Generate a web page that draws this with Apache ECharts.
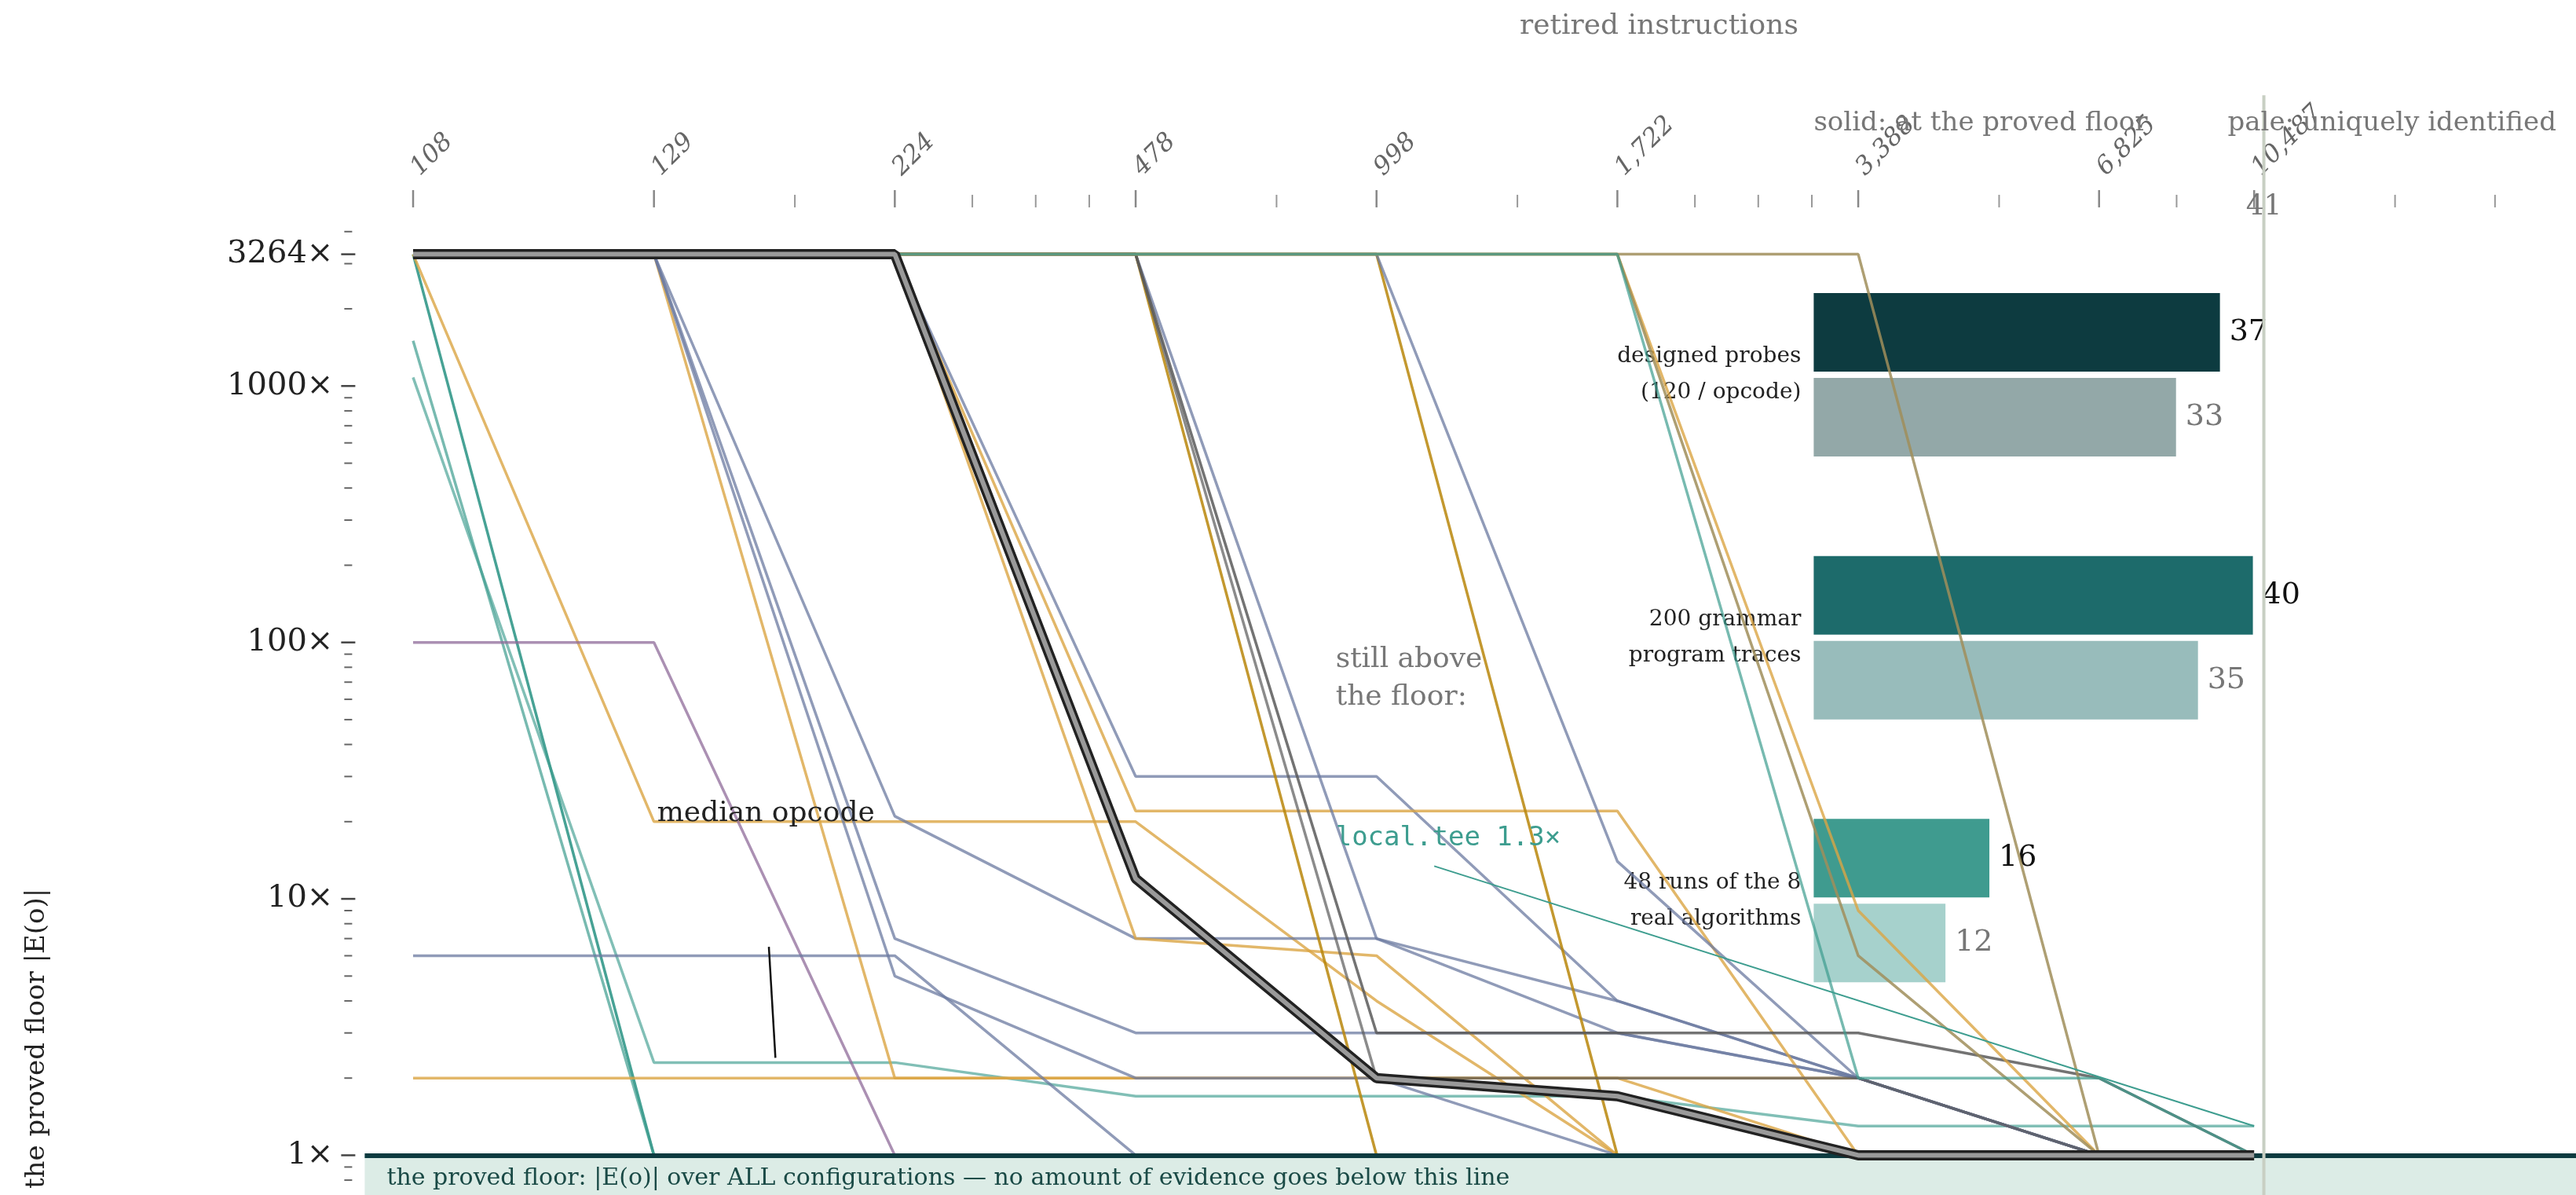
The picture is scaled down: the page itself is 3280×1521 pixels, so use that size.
<!DOCTYPE html>
<html><head><meta charset="utf-8">
<script src="https://cdn.jsdelivr.net/npm/echarts@6/dist/echarts.min.js"></script>
<style>html,body{margin:0;background:#fff}#c{width:3280px;height:1521px}</style>
</head><body><div id="c"></div>
<script>
const programs = [1,2,4,8,16,32,64,128,200];
const retired = ['108','129','224','478','998','1,722','3,388','6,825','10,487'];
const TEAL='#3d9d8f', GOLD='#dba544', SLATE='#6b7aa0', PURPLE='#8f6b9a', DGOLD='#b8860b', OLIVE='#a08e5a', GREY='#5a5a5a';
const opcodeLines = [
 {c:TEAL, o:0.95, v:[3264,1,1,1,1,1,1,1,1]},
 {c:TEAL, o:0.7, v:[1500,1,1,1,1,1,1,1,1]},
 {c:TEAL, o:0.65, v:[1080,2.3,2.3,1.7,1.7,1.7,1.3,1.3,1.3]},
 {c:GOLD, o:0.8, v:[3264,20,20,20,4,1,1,1,1]},
 {c:GOLD, o:0.8, v:[2,2,2,2,2,2,2,1,1]},
 {c:GOLD, o:0.8, v:[3264,3264,2,2,2,2,1,1,1]},
 {c:PURPLE, o:0.75, v:[100,100,1,1,1,1,1,1,1]},
 {c:SLATE, o:0.75, v:[6,6,6,1,1,1,1,1,1]},
 {c:SLATE, o:0.75, v:[3264,3264,21,7,7,4,2,1,1]},
 {c:SLATE, o:0.75, v:[3264,3264,5,2,2,1,1,1,1]},
 {c:SLATE, o:0.75, v:[3264,3264,7,3,3,3,2,1,1]},
 {c:GOLD, o:0.8, v:[3264,3264,3264,7,6,1,1,1,1]},
 {c:SLATE, o:0.75, v:[3264,3264,3264,30,30,4,2,1,1]},
 {c:GOLD, o:0.8, v:[3264,3264,3264,22,22,22,1,1,1]},
 {c:SLATE, o:0.75, v:[3264,3264,3264,3264,7,3,2,1,1]},
 {c:DGOLD, o:0.85, v:[3264,3264,3264,3264,1,1,1,1,1]},
 {c:DGOLD, o:0.85, v:[3264,3264,3264,3264,3264,1,1,1,1]},
 {c:SLATE, o:0.75, v:[3264,3264,3264,3264,3264,14,2,1,1]},
 {c:GREY, o:0.85, v:[3264,3264,3264,3264,3,3,3,2,1]},
 {c:GREY, o:0.7, v:[3264,3264,3264,3264,2,2,2,1,1]},
 {c:GOLD, o:0.8, v:[3264,3264,3264,3264,3264,3264,9,1,1]},
 {c:OLIVE, o:0.85, v:[3264,3264,3264,3264,3264,3264,6,1,1]},
 {c:OLIVE, o:0.85, v:[3264,3264,3264,3264,3264,3264,3264,1,1]},
 {c:TEAL, o:0.7, v:[3264,3264,3264,3264,3264,3264,2,2,1]}
];
const medianOpcode = [3264,3264,3264,12,2,1.7,1,1,1];
const barCategories = ['designed probes\n(120 / opcode)','200 grammar\nprogram traces','48 runs of the 8\nreal algorithms'];
const atFloor = [37,40,16];
const unique = [33,35,12];
const solidColors = ['#0d3b40','#1d6b6b','#3f9b8f'];
const paleColors = ['#93a8a8','#98bcbb','#a6d1cc'];
const totalOpcodes = 41;

const S=3280/1568;
const SERIF='"DejaVu Serif", serif';
const chart = echarts.init(document.getElementById('c'));
const pts = v => programs.map((x,i)=>[x,v[i]]);
const series = opcodeLines.map(l=>({type:'line',xAxisIndex:0,yAxisIndex:0,data:pts(l.v),symbol:'none',silent:true,
  lineStyle:{color:l.c,width:3.5,opacity:l.o},z:2}));
series.push({type:'line',data:pts(medianOpcode),symbol:'none',lineStyle:{color:'#222',width:13},z:5});
series.push({type:'line',data:pts(medianOpcode),symbol:'none',lineStyle:{color:'#9a9a9a',width:6},z:6,
  markArea:{silent:true,itemStyle:{color:'#dcece6'},data:[[{yAxis:0.7},{yAxis:1}]]},
  markLine:{silent:true,symbol:'none',label:{show:false},lineStyle:{color:'#0d3b40',width:6,type:'solid'},data:[{yAxis:1}]}});
series.push({type:'bar',xAxisIndex:1,yAxisIndex:1,data:atFloor.map((v,i)=>({value:v,itemStyle:{color:solidColors[i]}})),
  barWidth:100,barGap:'8%',label:{show:true,position:'right',color:'#111',fontSize:38,fontFamily:SERIF,distance:12}});
series.push({type:'bar',xAxisIndex:1,yAxisIndex:1,data:unique.map((v,i)=>({value:v,itemStyle:{color:paleColors[i]}})),
  barWidth:100,label:{show:true,position:'right',color:'#777',fontSize:38,fontFamily:SERIF,distance:12}});

const G0={l:222*S,r:1918*S,t:130*S,b:1395*S};
const G1={l:1104*S,r:1378*S,t:148*S,h:480*S};
chart.setOption({
  animation:false,
  grid:[{left:G0.l,width:G0.r-G0.l,top:G0.t,height:G0.b-G0.t},{left:G1.l,width:G1.r-G1.l,top:G1.t,height:G1.h}],
  xAxis:[
    {type:'log',logBase:2,min:0.87,max:505,gridIndex:0,axisLine:{show:false},splitLine:{show:false},
     axisTick:{show:false},axisLabel:{show:false}},
    {type:'value',gridIndex:1,min:0,max:41,interval:10,axisLine:{show:false},splitLine:{show:false},
     axisTick:{show:false},axisLabel:{show:false}}
  ],
  yAxis:[
    {type:'log',min:0.7,max:4700,gridIndex:0,axisLine:{show:false},splitLine:{show:false},
     axisTick:{show:false},axisLabel:{show:false}},
    {type:'category',gridIndex:1,data:barCategories,inverse:true,axisLine:{show:false},axisTick:{show:false},
     axisLabel:{fontFamily:SERIF,fontSize:28,color:'#222',lineHeight:46,margin:16}}
  ],
  series
});

const g=[];
const px=x=>chart.convertToPixel({xAxisIndex:0},x);
const py=y=>chart.convertToPixel({yAxisIndex:0},y);
const bx=v=>chart.convertToPixel({xAxisIndex:1},v);
const txt=(x,y,t,o)=>g.push(Object.assign({type:'text',x,y,style:Object.assign({text:t,fontFamily:SERIF,fontSize:32,fill:'#222'},o||{}),z:20}));
const ln=(x1,y1,x2,y2,s,w)=>g.push({type:'line',shape:{x1,y1,x2,y2},style:{stroke:s,lineWidth:w||2},z:20});
const yb=G0.b, yt=G0.t;
programs.forEach((p,i)=>{
  txt(px(p),yb+34,String(p),{align:'center',verticalAlign:'top',fontSize:38});
  ln(px(p),yb+4,px(p),yb+26,'#666',2.5);
  ln(px(p),yt-8,px(p),yt-30,'#888',2.5);
  g.push({type:'text',x:px(p)+14,y:yt-42,rotation:Math.PI/4,style:{text:retired[i],fontFamily:SERIF,fontStyle:'italic',fontSize:32,fill:'#666',align:'left',verticalAlign:'bottom'},z:20});
});
[3,5,6,7,12,24,40,48,56,96,160,300,400].forEach(p=>{ln(px(p),yb+4,px(p),yb+18,'#777',2);ln(px(p),yt-8,px(p),yt-24,'#999',2);});
ln(px(0.9),yb+4,px(0.9),yb+18,'#777',2);
txt((G0.l+G0.r)/2-100,yb+92,'programs traced (cumulative)',{align:'center',verticalAlign:'top',fontSize:34});
g.push({type:'text',x:30,y:(G0.t+G0.b)/2+60,rotation:Math.PI/2,style:{text:'surviving microcodes, as a multiple of the proved floor |E(o)|',fontFamily:SERIF,fontSize:34,fill:'#222',align:'center',verticalAlign:'top'},z:20});
const yl=G0.l-30;
[1,10,100,1000].forEach(v=>{txt(yl-10,py(v),v+'×',{align:'right',verticalAlign:'middle',fontSize:40});ln(yl,py(v),yl+18,py(v),'#444',2.5);});
txt(yl-10,py(3264),'3264×',{align:'right',verticalAlign:'middle',fontSize:40});ln(yl,py(3264),yl+18,py(3264),'#444',2.5);
[0.8,0.9,2,3,4,5,6,7,8,9,20,30,40,50,60,70,80,90,200,300,400,500,600,700,800,900,2000,3000,4000].forEach(v=>ln(yl+4,py(v),yl+14,py(v),'#666',2));
txt(G0.l+28,(py(1)+py(0.7))/2+4,'the proved floor: |E(o)| over ALL configurations — no amount of evidence goes below this line',{fontSize:30,fill:'#1a4a46',verticalAlign:'middle'});
txt(400*S,495*S,'median opcode',{fontSize:36,verticalAlign:'middle'});
ln(468*S,py(6.5),472*S,py(2.4),'#111',2.5);
txt(813*S,390*S,'still above\nthe floor:',{fontSize:36,fill:'#777',lineHeight:48});
txt(813*S,510*S,'local.tee 1.3×',{fontFamily:'"DejaVu Sans Mono", monospace',fontSize:34,fill:TEAL,verticalAlign:'middle'});
ln(873*S,527*S,px(200),py(1.3),TEAL,2);
txt(925*S,16*S,'retired instructions',{fontSize:36,fill:'#777',verticalAlign:'middle'});
// right panel
ln(bx(totalOpcodes),58*S,bx(totalOpcodes),1370*S,'#c8cfc3',4);
txt(G1.l,75*S,'solid: at the proved floor',{fontSize:34,fill:'#777',verticalAlign:'middle'});
txt(1356*S,75*S,'pale: uniquely identified',{fontSize:34,fill:'#777',verticalAlign:'middle'});
txt(bx(totalOpcodes),126*S,String(totalOpcodes),{fontSize:36,fill:'#777',align:'center',verticalAlign:'middle'});
[0,10,20,30,41].forEach(v=>{txt(bx(v),1382*S,String(v),{fontSize:28,align:'center',verticalAlign:'middle'});});
txt((G1.l+G1.r)/2,1412*S,'opcodes',{fontSize:34,align:'center',verticalAlign:'middle'});
chart.setOption({graphic:g});
</script></body></html>
